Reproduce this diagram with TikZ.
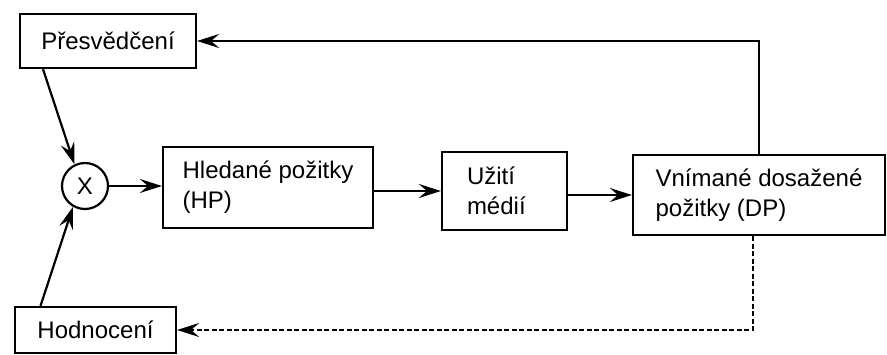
\documentclass[tikz,border=0pt]{standalone}
\usepackage{fontspec}
\setmainfont{Liberation Sans}
\usetikzlibrary{arrows.meta}
\begin{document}
\begin{tikzpicture}[x=1pt,y=-1pt,
  every node/.style={font=\fontsize{24}{30}\selectfont},
  box/.style={draw,line width=2.2pt,rectangle,inner sep=0pt},
  lbox/.style={box,align=left},
  flow/.style={line width=2.2pt,-{Stealth[length=22pt,width=14pt,inset=8pt]}},
  fback/.style={flow,dash pattern=on 5pt off 2.5pt}]
\useasboundingbox (0,0) rectangle (887,355);
% feedback sources
\node[box,minimum width=176pt,minimum height=54pt] (P) at (108,41) {Přesvědčení};
\node[box,minimum width=161pt,minimum height=46pt] (H) at (95.5,330) {Hodnocení};
% multiplication node
\node[draw,circle,line width=2.2pt,minimum size=46pt,inner sep=0pt] (X) at (85,186) {X};
% main chain
\node[lbox,minimum width=210pt,minimum height=81pt] (HP) at (268,187.5) {Hledané požitky\\(HP)};
\node[lbox,inner xsep=25pt,text width=75pt,minimum height=78pt] (U) at (504.5,191) {Užití\\médií};
\node[lbox,minimum width=252pt,minimum height=80pt] (DP) at (759,195) {Vnímané dosažené\\požitky (DP)};
% connectors
\coordinate (pout) at ([xshift=-65pt]P.south);
\coordinate (hout) at ([xshift=-55pt]H.north);
\draw[flow] (pout) -- (X.116);
\draw[flow] (hout) -- (X.-120);
\draw[flow] (X.east) -- (HP.west |- X.east);
\draw[flow] (HP.east |- U.west) -- (U.west);
\draw[flow] (U.east |- DP.west) -- (DP.west);
\draw[flow] (DP.north) |- (P.east);
\draw[fback] ([xshift=-6pt]DP.south) |- (H.east);
\end{tikzpicture}
\end{document}
